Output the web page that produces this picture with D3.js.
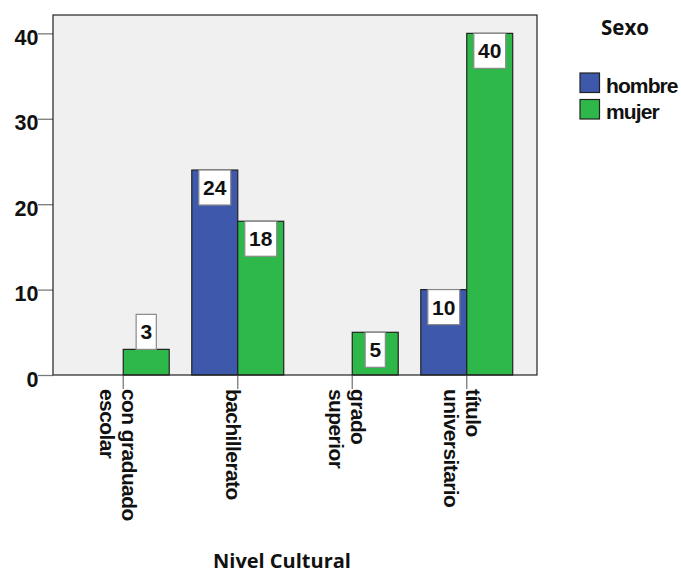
<!DOCTYPE html>
<html><head><meta charset="utf-8">
<script src="https://cdn.jsdelivr.net/npm/d3@7"></script>
<style>
html,body{margin:0;padding:0;background:#fff;}
svg{display:block;}
.ar{font-family:"Liberation Sans","Arimo",Arial,sans-serif;font-weight:bold;}
.os{font-family:"Open Sans",sans-serif;font-weight:bold;}
</style></head>
<body>
<script>
const categories = ["con graduado escolar","bachillerato","grado superior","título universitario"];
const categoryLines = [["con graduado","escolar"],["bachillerato"],["grado","superior"],["título","universitario"]];
const seriesNames = ["hombre","mujer"];
const hombre = [null, 24, null, 10];
const mujer = [3, 18, 5, 40];
const yTicks = [0,10,20,30,40];
const xTitle = "Nivel Cultural";
const legendTitle = "Sexo";
const colors = {hombre:"#3E58AC", mujer:"#2FB84A"};

const W = 681, H = 573;
const plot = {left:53, top:15, right:537, bottom:375};
const svg = d3.select("body").append("svg").attr("width",W).attr("height",H);

const x = d3.scaleBand().domain(categories).range([plot.left, plot.right]).paddingInner(0.197).paddingOuter(0.212);
const xs = d3.scaleBand().domain(seriesNames).range([0, x.bandwidth()]);
const y = d3.scaleLinear().domain([0, 42.15]).range([plot.bottom, plot.top]);

// plot background
svg.append("rect").attr("x",plot.left).attr("y",plot.top)
  .attr("width",plot.right-plot.left).attr("height",plot.bottom-plot.top)
  .attr("fill","#F0F0F0");

// y axis
const yAxis = svg.append("g").attr("transform",`translate(${plot.left},0)`)
  .call(d3.axisLeft(y).tickValues(yTicks).tickSize(15).tickPadding(0).tickFormat(d3.format("d")));
yAxis.attr("font-family",null).attr("font-size",null);
yAxis.select(".domain").remove();
yAxis.selectAll(".tick line").attr("stroke","#7a7a7a").attr("stroke-width",1.3);
yAxis.selectAll(".tick text").attr("class","ar").style("font-size","21.5px")
  .attr("fill","#111").attr("dy",null).attr("y",11).attr("x",-14.5);

// bars
const data = categories.map((c,i)=>({cat:c, values:[{s:"hombre",v:hombre[i]},{s:"mujer",v:mujer[i]}]}));
const g = svg.append("g");
const groups = g.selectAll("g.grp").data(data).join("g").attr("class","grp")
  .attr("transform",d=>`translate(${x(d.cat)},0)`);
groups.selectAll("rect").data(d=>d.values.filter(v=>v.v!=null)).join("rect")
  .attr("x",d=>xs(d.s)).attr("width",xs.bandwidth())
  .attr("y",d=>y(d.v)).attr("height",d=>y(0)-y(d.v))
  .attr("fill",d=>colors[d.s]).attr("stroke","#222").attr("stroke-width",1.2);

// x axis ticks at category centers
const xAxis = svg.append("g").attr("transform",`translate(0,${plot.bottom})`)
  .call(d3.axisBottom(x).tickSize(14).tickFormat(""));
xAxis.select(".domain").remove();
xAxis.selectAll(".tick line").attr("stroke","#7a7a7a").attr("stroke-width",1.3);

// plot border
svg.append("rect").attr("x",plot.left).attr("y",plot.top)
  .attr("width",plot.right-plot.left).attr("height",plot.bottom-plot.top)
  .attr("fill","none").attr("stroke","#222").attr("stroke-width",1.2);

// value labels
const labels = svg.append("g");
data.forEach(d=>{
  d.values.filter(v=>v.v!=null).forEach(v=>{
    const cx = x(d.cat)+xs(v.s)+xs.bandwidth()/2;
    const lg = labels.append("g");
    const t = lg.append("text").attr("class","ar").style("font-size","21px")
      .attr("text-anchor","middle").attr("fill","#111").text(v.v);
    const tw = t.node().getComputedTextLength();
    const bw = tw + 8.5, bh = 35;
    const barH = y(0)-y(v.v);
    const top = barH >= bh ? y(v.v) : y(v.v)-bh;
    lg.insert("rect","text").attr("x",cx-bw/2).attr("y",top).attr("width",bw).attr("height",bh)
      .attr("fill","#fff").attr("stroke","#8a8a8a").attr("stroke-width",1.2);
    t.attr("x",cx).attr("y",top+bh/2+7.5);
  });
});

// category labels (rotated)
categories.forEach((c,i)=>{
  const lines = categoryLines[i];
  const cx = x(c)+x.bandwidth()/2;
  const n = lines.length;
  lines.forEach((ln,j)=>{
    const bx = cx - 12 + (n-1)*11 - j*22;
    svg.append("text").attr("transform",`translate(${bx},389) rotate(90)`)
      .attr("class","ar").style("font-size","21px")
      .style("letter-spacing","-0.6px").attr("fill","#111").text(ln);
  });
});

// x title
svg.append("text").attr("x",282).attr("y",568).attr("text-anchor","middle")
  .attr("class","os").style("font-size","20px")
  .attr("fill","#111").text(xTitle);

// legend
svg.append("text").attr("x",625).attr("y",34.5).attr("text-anchor","middle")
  .attr("class","os").style("font-size","20.5px")
  .attr("fill","#111").text(legendTitle);
const leg = svg.append("g");
seriesNames.forEach((s,i)=>{
  const yy = 73 + i*26.5;
  leg.append("rect").attr("x",580).attr("y",yy).attr("width",19.5).attr("height",19.5)
    .attr("fill",colors[s]).attr("stroke","#222").attr("stroke-width",1.2);
  leg.append("text").attr("x",606).attr("y",yy+19.5).attr("class","ar")
    .style("font-size","21px").style("letter-spacing","-0.9px").attr("fill","#111").text(s);
});
</script>
</body></html>
